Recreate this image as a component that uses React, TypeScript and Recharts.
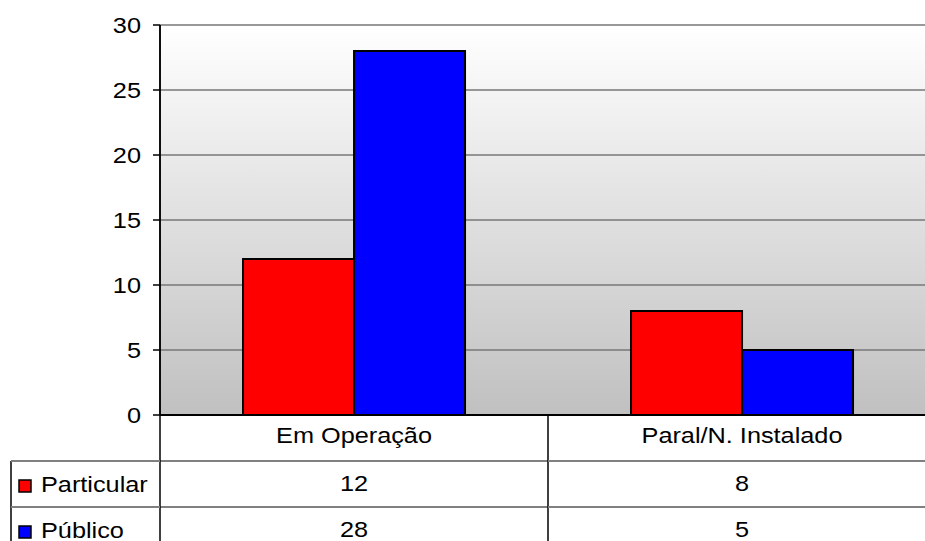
import { BarChart, Bar, XAxis, YAxis, CartesianGrid } from "recharts";

const categories = ["Em Operação", "Paral/N. Instalado"];
const particular = [12, 8];
const publico = [28, 5];
const yTicks = [0, 5, 10, 15, 20, 25, 30];
const seriesNames = ["Particular", "Público"];
const seriesColors = ["#ff0000", "#0000ff"];

const W = 940;
const H = 541;
const LEFT = 160;
const TOP = 25;
const AXIS_H = 126;
const RIGHT = 4;
const BAND = (W - LEFT - RIGHT) / categories.length;
const BOTTOM = H - AXIS_H;
const ROW = 46;
const FONT = "'Liberation Sans', Arial, sans-serif";
const SX = 1.15; // the text in the reference is a little stretched sideways

const data = categories.map((c, i) => ({ name: c, particular: particular[i], publico: publico[i] }));
const seriesValues = [particular, publico];

function Label({ x, y, anchor, children }: any) {
  return (
    <text transform={`translate(${x},${y}) scale(${SX},1)`} x={0} y={0} textAnchor={anchor} fontFamily={FONT} fontSize={22} fill="#000">
      {children}
    </text>
  );
}

function YTick(props: any) {
  const { x, y, payload } = props;
  return <Label x={x} y={y + 8} anchor="end">{payload.value}</Label>;
}

function TableTick(props: any) {
  const { x, payload, index } = props;
  const left = x - BAND / 2;
  const right = x + BAND / 2;
  return (
    <g>
      <Label x={x} y={BOTTOM + 28} anchor="middle">{payload.value}</Label>
      {seriesValues.map((vals, r) => (
        <g key={r}>
          <line x1={left} x2={right} y1={BOTTOM + ROW * (r + 1)} y2={BOTTOM + ROW * (r + 1)} stroke="#808080" strokeWidth={2} />
          <Label x={x} y={BOTTOM + ROW * (r + 1) + 30} anchor="middle">{vals[index]}</Label>
        </g>
      ))}
      <line x1={right} x2={right} y1={BOTTOM} y2={H} stroke="#000" strokeWidth={1.5} />
      {index === 0 && (
        <g>
          <line x1={left} x2={left} y1={TOP} y2={H} stroke="#000" strokeWidth={1.5} />
          <line x1={11} x2={11} y1={BOTTOM + ROW} y2={H} stroke="#000" strokeWidth={1.5} />
          {seriesNames.map((s, r) => (
            <g key={s}>
              <line x1={11} x2={left} y1={BOTTOM + ROW * (r + 1)} y2={BOTTOM + ROW * (r + 1)} stroke="#808080" strokeWidth={2} />
              <rect x={19} y={BOTTOM + ROW * (r + 1) + 19} width={12} height={12} fill={seriesColors[r]} stroke="#000" strokeWidth={1.5} />
              <Label x={41} y={BOTTOM + ROW * (r + 1) + 31} anchor="start">{s}</Label>
            </g>
          ))}
        </g>
      )}
    </g>
  );
}

export default function App() {
  return (
    <div style={{ position: "absolute", left: 0, top: 0, width: 925, height: H, overflow: "hidden", background: "#fff" }}>
      <BarChart width={W} height={H} data={data} margin={{ top: TOP, right: RIGHT, bottom: 0, left: 0 }} barCategoryGap="21.4%" barGap={0}>
        <defs>
          <linearGradient id="bgGrad" x1="0" y1="0" x2="0" y2="1">
            <stop offset="0%" stopColor="#ffffff" />
            <stop offset="100%" stopColor="#c0c0c0" />
          </linearGradient>
        </defs>
        <CartesianGrid vertical={false} stroke="#777" strokeWidth={1.5} fill="url(#bgGrad)" fillOpacity={1} />
        <XAxis
          dataKey="name"
          height={AXIS_H}
          axisLine={{ stroke: "#000", strokeWidth: 2 }}
          tickLine={false}
          tick={<TableTick />}
          interval={0}
        />
        <YAxis
          width={LEFT}
          domain={[0, 30]}
          ticks={yTicks}
          interval={0}
          axisLine={{ stroke: "#000", strokeWidth: 1.5 }}
          tickLine={{ stroke: "#000", strokeWidth: 1.5 }}
          tickSize={7}
          tickMargin={12}
          tick={<YTick />}
        />
        <Bar dataKey="particular" name={seriesNames[0]} fill={seriesColors[0]} stroke="#000" strokeWidth={2} isAnimationActive={false} />
        <Bar dataKey="publico" name={seriesNames[1]} fill={seriesColors[1]} stroke="#000" strokeWidth={2} isAnimationActive={false} />
      </BarChart>
    </div>
  );
}
